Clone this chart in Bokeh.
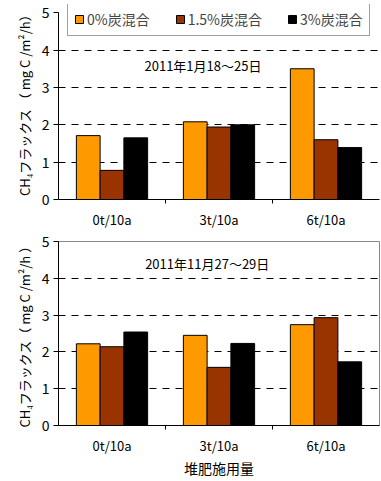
from bokeh.plotting import figure
from bokeh.layouts import column
from bokeh.models import Range1d, FixedTicker, Label, Legend, LegendItem
from bokeh.embed import file_html
from bokeh.resources import INLINE

# ---- data ----
categories = ["0t/10a", "3t/10a", "6t/10a"]
series_names = ["0%炭混合", "1.5%炭混合", "3%炭混合"]
series_colors = ["#FF9900", "#993300", "#000000"]

jan_0pct = [1.71, 2.08, 3.50]
jan_15pct = [0.78, 1.94, 1.60]
jan_3pct = [1.65, 2.00, 1.39]

nov_0pct = [2.22, 2.45, 2.74]
nov_15pct = [2.14, 1.58, 2.93]
nov_3pct = [2.54, 2.23, 1.73]

y_ticks = [0, 1, 2, 3, 4, 5]
title_jan = "2011年1月18～25日"
title_nov = "2011年11月27～29日"
ylabel_top = "CH₄フラックス （ mg C /m²/h）"
ylabel_bot = "CH₄フラックス（ mg C /m²/h ）"
xlabel_bot = "堆肥施用量"

FONT = "Noto Sans CJK JP"
BAR_W = 0.222
OFFSETS = [-BAR_W, 0.0, BAR_W]


def make_fig(height, top, bottom, left, outline, ymax):
    p = figure(width=381, height=height, output_backend="svg", toolbar_location=None,
               x_range=Range1d(0, 3), y_range=Range1d(0, ymax),
               min_border_top=top, min_border_bottom=bottom,
               min_border_left=left, min_border_right=2)
    p.outline_line_color = outline
    p.background_fill_color = "white"
    p.border_fill_color = "white"
    centers = [i + 0.5 for i in range(len(categories))]
    p.xaxis.ticker = FixedTicker(ticks=centers, minor_ticks=[i for i in range(1, len(categories))])
    p.xaxis.major_label_overrides = {c: lab for c, lab in zip(centers, categories)}
    p.xaxis.major_tick_out = 0
    p.xaxis.major_tick_in = 0
    p.xaxis.minor_tick_out = 4
    p.xaxis.minor_tick_in = 0
    p.xaxis.major_label_standoff = 6
    p.xaxis.major_label_text_font = FONT
    p.xaxis.major_label_text_font_size = "13px"
    p.xaxis.major_label_text_color = "black"
    p.xaxis.axis_line_color = "black"

    p.yaxis.ticker = FixedTicker(ticks=y_ticks, minor_ticks=[])
    p.yaxis.bounds = (y_ticks[0], y_ticks[-1])
    p.yaxis.major_tick_out = 5
    p.yaxis.major_tick_in = 0
    p.yaxis.major_label_standoff = 4
    p.yaxis.major_label_text_font = FONT
    p.yaxis.major_label_text_font_size = "14px"
    p.yaxis.major_label_text_color = "black"
    p.yaxis.axis_line_color = "black"
    p.yaxis.axis_label_text_font = FONT
    p.yaxis.axis_label_text_font_size = "13px"
    p.yaxis.axis_label_text_font_style = "normal"
    p.yaxis.axis_label_text_color = "black"
    p.yaxis.axis_label_standoff = 5

    p.xgrid.visible = False
    p.ygrid.ticker = FixedTicker(ticks=y_ticks[1:-1])
    p.ygrid.grid_line_color = "black"
    p.ygrid.grid_line_dash = "7 6"
    p.ygrid.grid_line_width = 1
    return p


def add_bars(p, values_list):
    rends = []
    for vals, color, off in zip(values_list, series_colors, OFFSETS):
        xs = [i + 0.5 + off for i in range(len(categories))]
        r = p.vbar(x=xs, top=vals, width=BAR_W, bottom=0, fill_color=color,
                   line_color="black", line_width=1)
        rends.append(r)
    return rends


# ---- top chart ----
# frame extends a little above 5 so that the legend box fits inside it
p1 = make_fig(232, 4, 33, 58, None, 5.22)
p1.yaxis.axis_label = ylabel_top
r1 = add_bars(p1, [jan_0pct, jan_15pct, jan_3pct])
legend = Legend(items=[LegendItem(label=n, renderers=[r]) for n, r in zip(series_names, r1)],
                orientation="horizontal", location=(9, 163),
                glyph_width=10, glyph_height=10, label_standoff=3, spacing=25,
                padding=6, margin=0, label_height=16,
                label_text_font=FONT, label_text_font_size="14px",
                border_line_color="#404040", border_line_width=1,
                background_fill_color="white", background_fill_alpha=1)
p1.add_layout(legend, "center")
p1.add_layout(Label(x=1.35, y=3.6, text=title_jan, text_align="center", text_baseline="middle",
                    text_font=FONT, text_font_size="13px", text_color="black"))

# ---- bottom chart ----
p2 = make_fig(248, 9, 54, 56, "#888888", 5)
p2.yaxis.axis_label = ylabel_bot
p2.xaxis.axis_label = xlabel_bot
p2.xaxis.axis_label_text_font = FONT
p2.xaxis.axis_label_text_font_size = "14px"
p2.xaxis.axis_label_text_font_style = "normal"
p2.xaxis.axis_label_text_color = "black"
p2.xaxis.axis_label_standoff = 0
add_bars(p2, [nov_0pct, nov_15pct, nov_3pct])
p2.add_layout(Label(x=1.39, y=4.39, text=title_nov, text_align="center", text_baseline="middle",
                    text_font=FONT, text_font_size="13px", text_color="black"))

layout = column(p1, p2, spacing=0)
open("out.html", "w").write(file_html(layout, INLINE))
